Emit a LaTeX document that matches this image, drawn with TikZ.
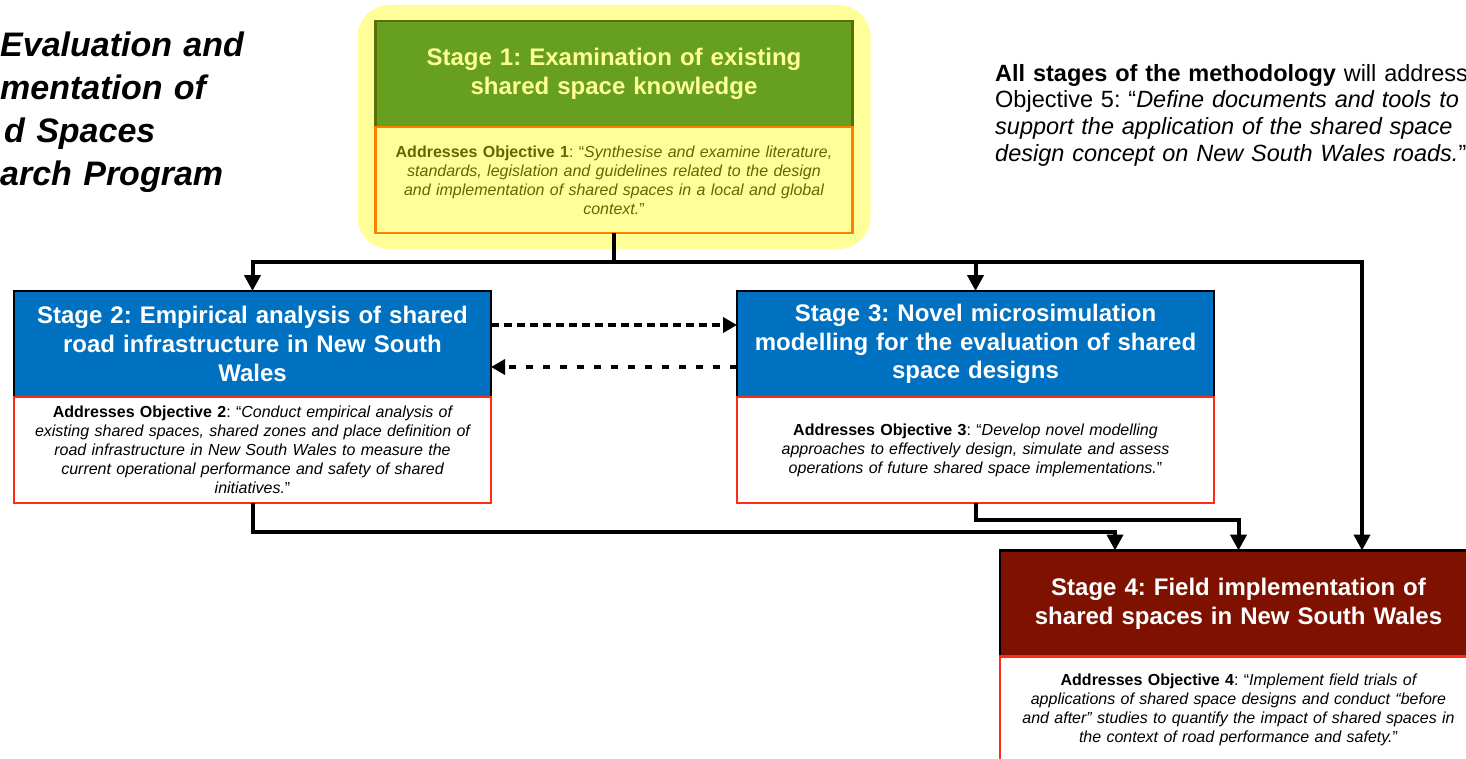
\documentclass[tikz,border=0pt]{standalone}
\usepackage{fontspec}
\setmainfont{Liberation Sans}
\usepackage{xcolor}
\usepackage{tikz}
\usetikzlibrary{arrows.meta, positioning, fit, backgrounds, calc}
\definecolor{paleYellow}{HTML}{FFFF99}
\definecolor{stageGreen}{HTML}{66A01E}
\definecolor{greenEdge}{HTML}{5C6E08}
\definecolor{stageBlue}{HTML}{0070C0}
\definecolor{stageRed}{HTML}{7F1100}
\definecolor{objOrange}{HTML}{FF7F00}
\definecolor{objRed}{HTML}{FF2B14}
\definecolor{oliveText}{HTML}{666600}
\frenchspacing

\begin{document}
\begin{tikzpicture}[
    x=1pt, y=-1pt,
    node distance=0pt,
    stage/.style={draw, line width=2.5pt, minimum width=477pt,
                  minimum height=106pt, inner sep=0pt, outer sep=0pt,
                  text width=470pt, align=center, text=white,
                  font=\bfseries\fontsize{24}{28.7}\selectfont},
    objective/.style={draw=objRed, fill=white, line width=2.5pt,
                  minimum width=477pt, minimum height=106pt,
                  inner sep=0pt, outer sep=0pt, text width=470pt,
                  align=center, font=\fontsize{16}{19}\selectfont},
    arrow/.style={-{Triangle[length=16pt, width=16pt]}, line width=4pt},
    link/.style={line width=4pt},
    dashlink/.style={-{Triangle[length=14pt, width=15pt]}, line width=3.5pt},
]
\useasboundingbox (0,0) rectangle (1466,759);

% Title (cut at the left edge)
\node[anchor=north west, align=left, inner sep=0pt, text width=300pt,
      font=\bfseries\itshape\fontsize{34}{43}\selectfont] (title) at (0,32)
    {Evaluation and\\mentation of\\\hspace*{4pt}d Spaces\\arch Program};

% Note on objective 5
\node[anchor=north west, align=left, inner sep=0pt, text width=520pt,
      font=\fontsize{23.5}{26.7}\selectfont] (note) at (995,64)
    {\textbf{All stages of the methodology} will address\\
     Objective 5: “\textit{Define documents and tools to\\
     support the application of the shared space\\
     design concept on New South Wales roads.}”};

% Stages
\node[stage, fill=stageGreen, draw=greenEdge, text=paleYellow] (h1) at (614,74)
    {Stage 1: Examination of existing\\shared space knowledge};
\node[objective, fill=paleYellow, draw=objOrange, text=oliveText, below=of h1] (o1)
    {\textbf{Addresses Objective 1}: “\textit{Synthesise and examine literature,\\
     standards, legislation and guidelines related to the design\\
     and implementation of shared spaces in a local and global\\
     context.}”};

\node[stage, fill=stageBlue] (h2) at (252.5,344)
    {Stage 2: Empirical analysis of shared\\road infrastructure in New South\\Wales};
\node[objective, below=of h2] (o2)
    {\textbf{Addresses Objective 2}: “\textit{Conduct empirical analysis of\\
     existing shared spaces, shared zones and place definition of\\
     road infrastructure in New South Wales to measure the\\
     current operational performance and safety of shared\\
     initiatives.}”};

\node[stage, fill=stageBlue] (h3) at (975.5,344)
    {Stage 3: Novel microsimulation\\modelling for the evaluation of shared\\space designs};
\node[objective, below=of h3] (o3)
    {\textbf{Addresses Objective 3}: “\textit{Develop novel modelling\\
     approaches to effectively design, simulate and assess\\
     operations of future shared space implementations.}”};

\node[stage, fill=stageRed] (h4) at (1238.5,603.5)
    {Stage 4: Field implementation of\\shared spaces in New South Wales};
\node[objective, below=of h4] (o4)
    {\textbf{Addresses Objective 4}: “\textit{Implement field trials of\\
     applications of shared space designs and conduct “before\\
     and after” studies to quantify the impact of shared spaces in\\
     the context of road performance and safety.}”};

\begin{scope}[on background layer]
\node[fit=(h1)(o1), inner xsep=18pt, inner ysep=16pt, rounded corners=32pt,
      fill=paleYellow] (s1bg) {};
\end{scope}

% Flow
\coordinate (split) at ($(o1.south)+(0,29)$);
\draw[link] (o1.south) -- (split);
\draw[arrow] (split) -| (h2.north);
\draw[arrow] (split) -| (h3.north);
\draw[arrow] (split) -| ([xshift=123.5pt]h4.north);
\draw[arrow] (o2.south) -- ++(0,29) -| ([xshift=-123.5pt]h4.north);
\draw[arrow] (o3.south) -- ++(0,17) -| (h4.north);

% Stage 2 <-> Stage 3
\draw[dashlink, dash pattern=on 8pt off 5pt]
    ([yshift=19pt]h2.east) -- ([yshift=19pt]h3.west);
\draw[dashlink, dash pattern=on 7pt off 10pt]
    ([yshift=-23pt]h3.west) -- ([yshift=-23pt]h2.east);
\end{tikzpicture}
\end{document}
